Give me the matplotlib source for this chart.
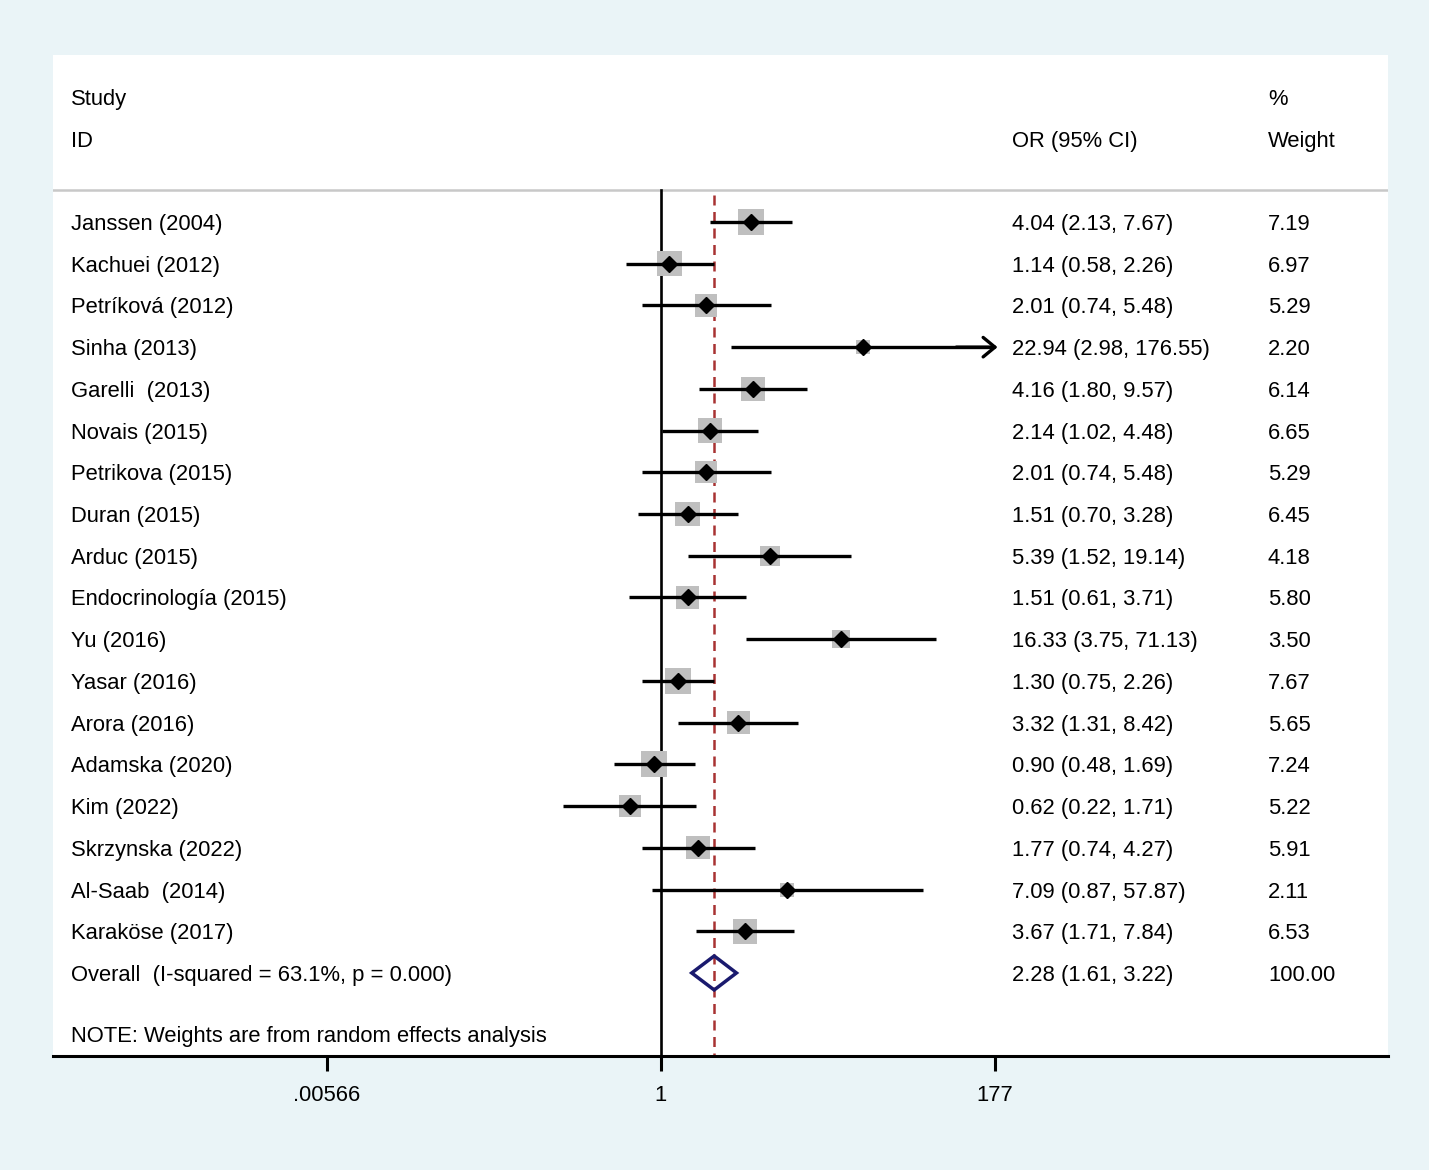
import numpy as np
import matplotlib
matplotlib.use("Agg")
import matplotlib.pyplot as plt
import matplotlib.transforms as mtransforms
from matplotlib.patches import Polygon

plt.rcParams['font.family'] = ['Liberation Sans', 'DejaVu Sans']

studies = ["Janssen (2004)", "Kachuei (2012)", "Petríková (2012)", "Sinha (2013)",
           "Garelli  (2013)", "Novais (2015)", "Petrikova (2015)", "Duran (2015)",
           "Arduc (2015)", "Endocrinología (2015)", "Yu (2016)", "Yasar (2016)",
           "Arora (2016)", "Adamska (2020)", "Kim (2022)", "Skrzynska (2022)",
           "Al-Saab  (2014)", "Karaköse (2017)"]
odds = [4.04, 1.14, 2.01, 22.94, 4.16, 2.14, 2.01, 1.51, 5.39, 1.51, 16.33, 1.30,
        3.32, 0.90, 0.62, 1.77, 7.09, 3.67]
lower = [2.13, 0.58, 0.74, 2.98, 1.80, 1.02, 0.74, 0.70, 1.52, 0.61, 3.75, 0.75,
         1.31, 0.48, 0.22, 0.74, 0.87, 1.71]
upper = [7.67, 2.26, 5.48, 176.55, 9.57, 4.48, 5.48, 3.28, 19.14, 3.71, 71.13, 2.26,
         8.42, 1.69, 1.71, 4.27, 57.87, 7.84]
weights = [7.19, 6.97, 5.29, 2.20, 6.14, 6.65, 5.29, 6.45, 4.18, 5.80, 3.50, 7.67,
           5.65, 7.24, 5.22, 5.91, 2.11, 6.53]
overall = (2.28, 1.61, 3.22)
overall_label = "Overall  (I-squared = 63.1%, p = 0.000)"
note = "NOTE: Weights are from random effects analysis"
tick_vals = [0.00566, 1, 177]
tick_labels = [".00566", "1", "177"]

W, H = 1429, 1170
bg = '#eaf4f7'
fs = 15.8
lw = 2.4

# pixel layout of the white panel
left, right, top, bottom = 53, 1388, 55, 1056
x1_px = 661
px_per_ln = (995 - 661) / np.log(177)

fig = plt.figure(figsize=(W / 100, H / 100), dpi=100, facecolor=bg)
ax = fig.add_axes([left / W, 1 - bottom / H, (right - left) / W, (bottom - top) / H])
ax.set_facecolor('white')
ax.set_xlim((left - x1_px) / px_per_ln, (right - x1_px) / px_per_ln)
ax.set_ylim(bottom, top)
tr = mtransforms.blended_transform_factory(ax.transAxes, ax.transData)

def fx(px):
    return (px - left) / (right - left)

def label(xpx, y, s):
    # small downward nudge so text centres match the rows
    ax.text(fx(xpx), y + 2.5, s, fontsize=fs, va='center', transform=tr)

row0, step = 222, 41.72
rows = [row0 + i * step for i in range(len(studies))]
y_over = row0 + len(studies) * step

# headers
label(71, 97, "Study")
label(71, 139, "ID")
label(1012, 139, "OR (95% CI)")
label(1268, 97, "%")
label(1268, 139, "Weight")
ax.axhline(190, color='#c8c8c8', lw=1.8, zorder=1)

# reference lines
ax.plot([0, 0], [190, bottom], color='black', lw=1.9, zorder=2)
ax.plot([np.log(overall[0])] * 2, [195, bottom], color='#a83232', lw=1.8,
        ls=(0, (4, 2.6)), zorder=2)

x_max = 177
for y, name, o, lo, hi, w in zip(rows, studies, odds, lower, upper, weights):
    ax.scatter([np.log(o)], [y], marker='s', s=48 * w, color='#bfbfbf',
               edgecolors='none', zorder=3)
    if hi > 0.99 * x_max:
        ax.plot([np.log(lo), np.log(x_max) - 0.05], [y, y], color='black', lw=lw,
                zorder=4, solid_capstyle='butt')
        ax.annotate("", xy=(np.log(x_max) + 0.04, y), xytext=(np.log(x_max) - 0.6, y),
                    arrowprops=dict(arrowstyle='->,head_length=0.85,head_width=0.7',
                                    lw=lw, color='black', mutation_scale=10,
                                    shrinkA=0, shrinkB=0), zorder=4)
    else:
        ax.plot([np.log(lo), np.log(hi)], [y, y], color='black', lw=lw, zorder=4,
                solid_capstyle='butt')
    ax.plot([np.log(o)], [y], marker='D', ms=8, color='black', zorder=5)
    label(71, y, name)
    label(1012, y, f"{o:.2f} ({lo:.2f}, {hi:.2f})")
    label(1268, y, f"{w:.2f}")

# overall diamond
o, lo, hi = overall
half = 17
dia = Polygon([(np.log(lo), y_over), (np.log(o), y_over - half),
               (np.log(hi), y_over), (np.log(o), y_over + half)],
              closed=True, fill=False, edgecolor='#1a1a6e', lw=2.5, zorder=6)
ax.add_patch(dia)
label(71, y_over, overall_label)
label(1012, y_over, f"{o:.2f} ({lo:.2f}, {hi:.2f})")
label(1268, y_over, "100.00")
label(71, 1034, note)

# axis
for s in ['top', 'left', 'right']:
    ax.spines[s].set_visible(False)
ax.spines['bottom'].set_linewidth(2.2)
ax.set_yticks([])
ax.set_xticks(np.log(tick_vals))
ax.set_xticklabels(tick_labels, fontsize=fs)
ax.tick_params(axis='x', direction='out', length=11, width=2.2, pad=10)

fig.savefig("out.png", dpi=100, facecolor=bg)
